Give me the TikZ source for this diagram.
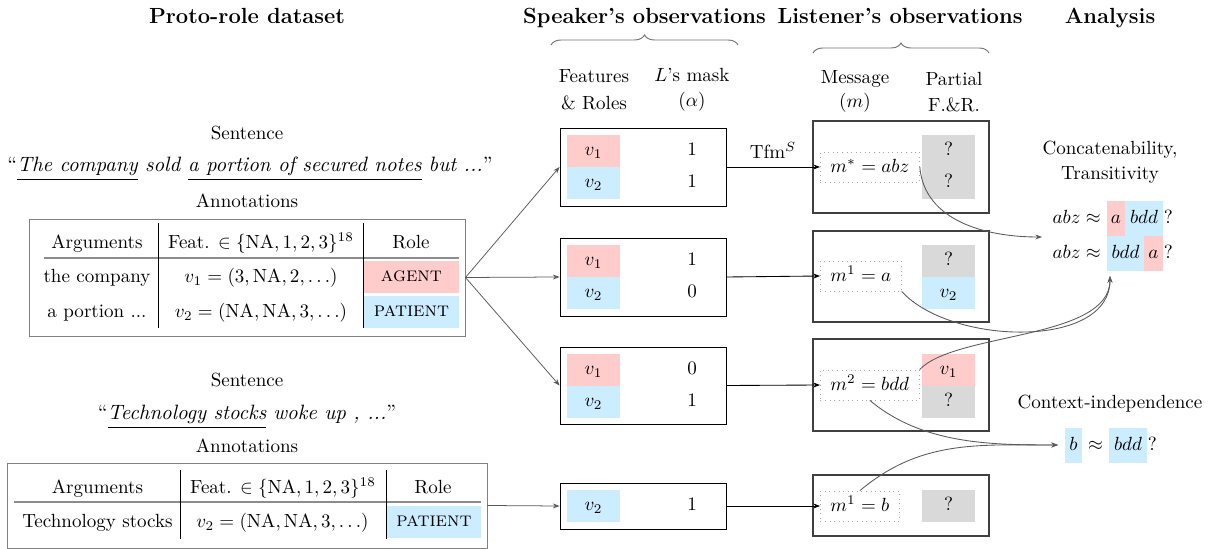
\documentclass[tikz,border=0pt]{standalone}
\usepackage{amsmath}
\usetikzlibrary{arrows.meta,decorations.pathreplacing}
\definecolor{cred}{RGB}{255,204,204}
\definecolor{cblue}{RGB}{204,236,255}
\definecolor{cgray}{RGB}{217,217,217}
\def\pxl{0.525pt}
\begin{document}
\begin{tikzpicture}[x=0.525pt,y=-0.525pt,
  lbl/.style={anchor=base, inner sep=0pt},
  ttl/.style={lbl, font=\fontsize{11.5pt}{14pt}\selectfont\bfseries},
  sent/.style={lbl, font=\fontsize{10.9pt}{13pt}\selectfont},
  rolefont/.style={font=\fontsize{10.7pt}{13pt}\selectfont\scshape},
  cellbox/.style={inner sep=0pt, minimum width=53*\pxl, minimum height=32*\pxl, text height=6pt, text depth=1pt},
  spk/.style={draw=black, line width=0.5pt, minimum width=166*\pxl, inner sep=0pt},
  lst/.style={draw=black!75, line width=0.6pt, minimum width=176*\pxl, inner sep=0pt},
  msg/.style={draw=black!35, dotted, anchor=west, minimum height=30*\pxl, inner xsep=5.3pt, inner ysep=0pt, text height=6.5pt, text depth=1pt},
  tabbox/.style={draw=black!50, line width=0.5pt, inner sep=0pt},
  feed/.style={draw=black!65, line width=0.4pt, -{Stealth[length=3.5pt,width=2.6pt]}},
  send/.style={draw=black, line width=0.45pt, -{Stealth[length=3.5pt,width=2.6pt]}},
  link/.style={draw=black!65, line width=0.45pt, -{Stealth[length=3.5pt,width=2.6pt]}},
  brc/.style={draw=black!55, line width=0.5pt, decorate, decoration={brace, amplitude=5.25pt}},
  vrule/.style={draw=black, line width=0.5pt},
  hrule/.style={draw=black!45, line width=0.6pt}
]
\useasboundingbox (0,0) rectangle (1215,549);

% titles
\node[ttl] (t1) at (247,24) {Proto-role dataset};
\node[ttl] (t2) at (644.5,24) {Speaker's observations};
\node[ttl] (t3) at (900,24) {Listener's observations};
\node[ttl] (t4) at (1110,24) {Analysis};

% braces
\coordinate (b1l) at (551,45); \coordinate (b1r) at (738,45);
\coordinate (b2l) at (813,53); \coordinate (b2r) at (989,53);
\draw[brc] (b1l) -- (b1r);
\draw[brc] (b2l) -- (b2r);

% column headers
\node[lbl] (h1a) at (594,83) {Features};
\node[lbl] (h1b) at (594,109.5) {\& Roles};
\node[lbl] (h2a) at (692,81.5) {$L$'s mask};
\node[lbl] (h2b) at (692,107) {$(\alpha)$};
\node[lbl] (h3a) at (855,83.5) {Message};
\node[lbl] (h3b) at (855,108) {$(m)$};
\node[lbl] (h4a) at (954,85.5) {Partial};
\node[lbl] (h4b) at (954,112) {F.\&R.};

% ---------- first sentence ----------
\node[lbl] (s1) at (247,139.5) {Sentence};
\node[sent] (q1) at (250,172) {``\underline{\textit{The company}} \textit{sold} \underline{\textit{a portion of secured notes}} \textit{but ...}''};
\node[lbl] (a1) at (247,208) {Annotations};

\node[tabbox, minimum width=436*\pxl, minimum height=117*\pxl] (tab1) at (247,277.5) {};
\node[lbl] (t1c1) at (97,248.5) {Arguments};
\node[lbl] (t1c2) at (261,248.5) {Feat. $\in \{\mathrm{NA},1,2,3\}^{18}$};
\node[lbl] (t1c3) at (411,248.5) {Role};
\draw[hrule] (44,258) -- (459,258);
\draw[vrule] (158,223) -- (158,328);
\draw[vrule] (363,223) -- (363,328);
\node[cellbox, rolefont, fill=cred, minimum width=95*\pxl] (ag) at (411.5,277) {agent};
\node[cellbox, rolefont, fill=cblue, minimum width=95*\pxl] (pa) at (411.5,312) {patient};
\node[lbl] (r1c1) at (97,282.5) {the company};
\node[lbl] (r1c2) at (261,282.5) {$v_1 = (3, \mathrm{NA}, 2, \ldots)$};
\node[lbl] (r2c1) at (97,317.5) {a portion ...};
\node[lbl] (r2c2) at (261,317.5) {$v_2 = (\mathrm{NA}, \mathrm{NA}, 3, \ldots)$};

% ---------- second sentence ----------
\node[lbl] (s2) at (247,386.5) {Sentence};
\node[sent] (q2) at (247,420) {``\underline{\textit{Technology stocks}} \textit{woke up , ...}''};
\node[lbl] (a2) at (247,453) {Annotations};

\node[tabbox, minimum width=480*\pxl, minimum height=85*\pxl] (tab2) at (247,505.5) {};
\node[lbl] (u1c1) at (97.5,493.5) {Arguments};
\node[lbl] (u1c2) at (283,493.5) {Feat. $\in \{\mathrm{NA},1,2,3\}^{18}$};
\node[lbl] (u1c3) at (433,493.5) {Role};
\draw[hrule] (14,502) -- (481,502);
\draw[vrule] (180,470) -- (180,539);
\draw[vrule] (386,470) -- (386,539);
\node[cellbox, rolefont, fill=cblue, minimum width=94*\pxl] (pb) at (434,522) {patient};
\node[lbl] (u2c1) at (97.5,527.5) {Technology stocks};
\node[lbl] (u2c2) at (282.5,527.5) {$v_2 = (\mathrm{NA}, \mathrm{NA}, 3, \ldots)$};

% ---------- speaker boxes ----------
\node[spk, minimum height=78*\pxl] (sp1) at (643,167) {};
\node[spk, minimum height=78*\pxl] (sp2) at (643,277) {};
\node[spk, minimum height=77*\pxl] (sp3) at (643,385.5) {};
\node[spk, minimum height=46*\pxl] (sp4) at (643,506) {};

\node[cellbox, fill=cred]  (sp1a) at (593.5,151) {$v_1$};
\node[cellbox, fill=cblue] (sp1b) at (593.5,183) {$v_2$};
\node[cellbox] (sp1x) at (692,151) {1};
\node[cellbox] (sp1y) at (692,183) {1};

\node[cellbox, fill=cred]  (sp2a) at (593.5,261) {$v_1$};
\node[cellbox, fill=cblue] (sp2b) at (593.5,293) {$v_2$};
\node[cellbox] (sp2x) at (692,261) {1};
\node[cellbox] (sp2y) at (692,293) {0};

\node[cellbox, fill=cred]  (sp3a) at (593.5,370) {$v_1$};
\node[cellbox, fill=cblue] (sp3b) at (593.5,402) {$v_2$};
\node[cellbox] (sp3x) at (692,370) {0};
\node[cellbox] (sp3y) at (692,402) {1};

\node[cellbox, fill=cblue] (sp4b) at (593.5,506) {$v_2$};
\node[cellbox] (sp4y) at (692,506) {1};

% ---------- listener boxes ----------
\node[lst, minimum height=92*\pxl] (ls1) at (901,167) {};
\node[lst, minimum height=91*\pxl] (ls2) at (901,276.5) {};
\node[lst, minimum height=92*\pxl] (ls3) at (901,385) {};
\node[lst, minimum height=61*\pxl] (ls4) at (901,505.5) {};

\node[cellbox, fill=cgray] (ls1a) at (948.5,151) {?};
\node[cellbox, fill=cgray] (ls1b) at (948.5,183) {?};
\node[cellbox, fill=cgray] (ls2a) at (948.5,261) {?};
\node[cellbox, fill=cblue] (ls2b) at (948.5,293) {$v_2$};
\node[cellbox, fill=cred]  (ls3a) at (948.5,370) {$v_1$};
\node[cellbox, fill=cgray] (ls3b) at (948.5,402) {?};
\node[cellbox, fill=cgray] (ls4a) at (948.5,506) {?};

\node[msg] (m1) at (820,167) {$m^* = abz$};
\node[msg] (m2) at (820,276) {$m^1 = a$};
\node[msg] (m3) at (820,385) {$m^2 = bdd$};
\node[msg] (m4) at (820,506) {$m^1 = b$};

% ---------- connectors ----------
\draw[feed] (tab1.east) -- (sp1.west);
\draw[feed] (tab1.east) -- (sp2.west);
\draw[feed] (tab1.east) -- (sp3.west);
\draw[feed] (tab2.east) -- (sp4.west);

\draw[send] (sp1.east) -- (m1.west);
\draw[send] (sp2.east) -- (m2.west);
\draw[send] (sp3.east) -- (m3.west);
\draw[send] (sp4.east) -- (m4.west);
\node[lbl] (tfm) at (773,158.5) {Tfm$^S$};

% ---------- analysis ----------
\node[lbl] (an1) at (1110,154.5) {Concatenability,};
\node[lbl] (an2) at (1110,179.5) {Transitivity};

\node[lbl, anchor=base east] (c1l) at (1101,223.5) {$abz \approx$};
\node[cellbox, fill=cred,  minimum width=18*\pxl, minimum height=35*\pxl] (c1a) at (1116,218.5) {$a$};
\node[cellbox, fill=cblue, minimum width=38*\pxl, minimum height=35*\pxl] (c1b) at (1144,218.5) {$bdd$};
\node[lbl, anchor=base west] (c1q) at (1163.5,223.5) {?};

\node[lbl, anchor=base east] (c2l) at (1101,258.5) {$abz \approx$};
\node[cellbox, fill=cblue, minimum width=37*\pxl, minimum height=35*\pxl] (c2b) at (1125.5,253.5) {$bdd$};
\node[cellbox, fill=cred,  minimum width=19*\pxl, minimum height=35*\pxl] (c2a) at (1153.5,253.5) {$a$};
\node[lbl, anchor=base west] (c2q) at (1163.5,258.5) {?};

\node[lbl] (an3) at (1110,408.5) {Context-independence};
\node[cellbox, fill=cblue, minimum width=17*\pxl, minimum height=35*\pxl] (ib) at (1073.5,445.5) {$b$};
\node[lbl] (iap) at (1095.5,450.3) {$\approx$};
\node[cellbox, fill=cblue, minimum width=38*\pxl, minimum height=35*\pxl] (ibdd) at (1128,445.5) {$bdd$};
\node[lbl, anchor=base west] (iq) at (1147.5,450.3) {?};

% ---------- curved links ----------
\coordinate (cc) at (1042,237);
\coordinate (ct) at (1110,276);
\coordinate (ci) at (1058,445);
\draw[link] (m1.east) to[out=-85,in=180] (cc);
\draw[link] (m2.south east) .. controls (950,345) and (1110,350) .. (ct);
\draw[link] (m3.north east) .. controls (955,332) and (1110,340) .. (ct);
\draw[link] (m3.south) to[out=-40,in=180,looseness=0.9] (ci);
\draw[link] (m4.north) to[out=40,in=180] (ci);
\end{tikzpicture}
\end{document}
